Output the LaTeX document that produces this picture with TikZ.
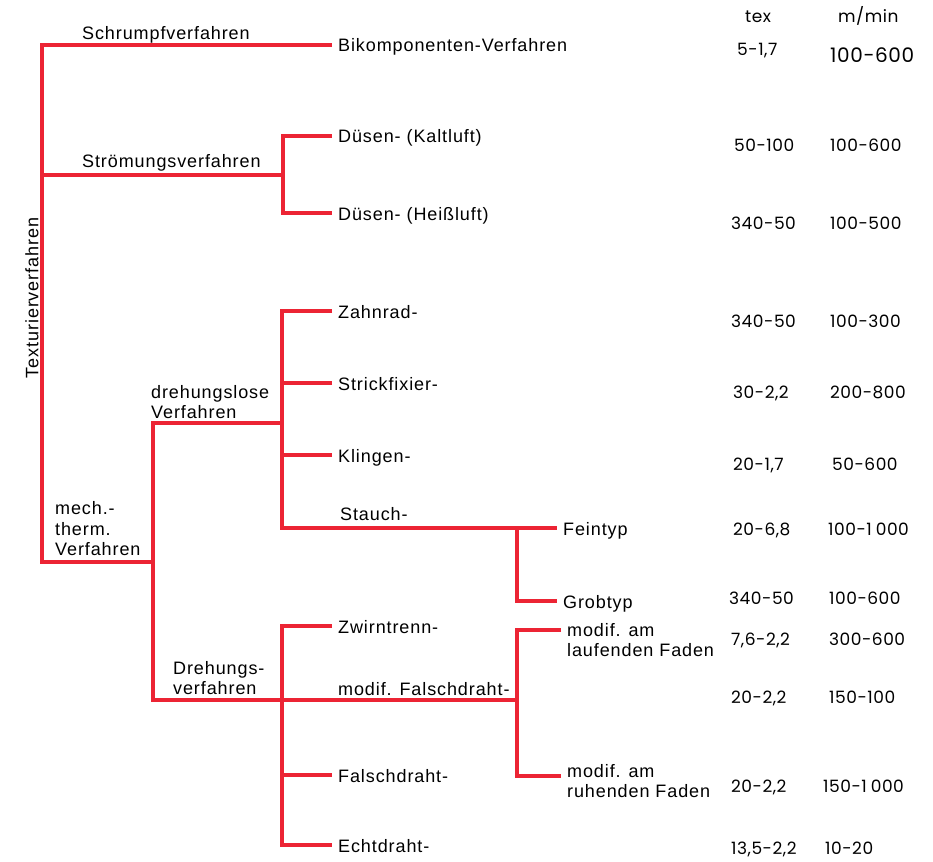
\documentclass[tikz,border=0pt]{standalone}
\usepackage{fontspec}
\setmainfont{Liberation Sans}[LetterSpace=5.0]
\newfontfamily\numfont{Poppins}[LetterSpace=3.0]
\usetikzlibrary{positioning}
\definecolor{linered}{RGB}{236,36,52}

\begin{document}
\begin{tikzpicture}
	% Styles
	[
	x=1pt, y=-1pt,
	txt/.style={font=\fontsize{18}{20.5}\selectfont},
	leaf/.style={txt, anchor=west, inner xsep=6pt, inner ysep=0pt, text height=14pt, text depth=0pt},
	twoleaf/.style={txt, anchor=north west, inner xsep=6pt, inner ysep=0pt, align=left},
	elabel/.style={txt, anchor=south west, inner sep=0pt, text depth=0pt, align=left},
	val/.style={font=\numfont\fontsize{17}{20}\selectfont, anchor=west, inner sep=0pt, text height=12pt, text depth=0pt},
	bigval/.style={font=\numfont\fontsize{20}{24}\selectfont, anchor=west, inner sep=0pt, text height=14pt, text depth=0pt},
	line/.style={draw=linered, line width=3.4pt}
	]
	\useasboundingbox (0,0) rectangle (933,861);

	% Nodes
	\node at (32,298)	(textur)	[txt, rotate=90] {Texturierverfahren};
	\node at (82,40)	(schrumpf)	[elabel] {Schrumpfverfahren};
	\node at (82,168)	(stroemung)	[elabel] {Strömungsverfahren};
	\node at (55,556)	(mechtherm)	[elabel] {mech.-\\therm.\\Verfahren};
	\node at (151,419)	(drehlos)	[elabel] {drehungslose\\Verfahren};
	\node at (173,695)	(drehung)	[elabel] {Drehungs-\\verfahren};
	\node at (340,521)	(stauchl)	[elabel] {Stauch-};
	\node at (338,696)	(modifl)	[elabel] {modif. Falschdraht-};

	\node at (332,45)	(bik)	[leaf] {Bikomponenten-Verfahren};
	\node at (332,136)	(kalt)	[leaf] {Düsen- (Kaltluft)};
	\node at (332,213)	(heiss)	[leaf] {Düsen- (Heißluft)};
	\node at (332,311)	(zahn)	[leaf] {Zahnrad-};
	\node at (332,383)	(strick)	[leaf] {Strickfixier-};
	\node at (332,455)	(kling)	[leaf] {Klingen-};
	\node at (557,528)	(fein)	[leaf] {Feintyp};
	\node at (557,601)	(grob)	[leaf] {Grobtyp};
	\node at (332,626)	(zwirn)	[leaf] {Zwirntrenn-};
	\node at (332,775)	(falsch)	[leaf] {Falschdraht-};
	\node at (332,845)	(echt)	[leaf] {Echtdraht-};
	\node at (561,623)	(lauf)	[twoleaf] {modif. am\\laufenden Faden};
	\node at (561,764)	(ruh)	[twoleaf] {modif. am\\ruhenden Faden};

	% Table
	\node at (745,17)	(tex)	[val] {tex};
	\node at (838,17)	(mmin)	[val] {m/min};
	\node at (737,50)	(tex1)	[val] {5-1,7};
	\node at (830,56)	(mmin1)	[bigval] {100-600};
	\node at (734,146)	(tex2)	[val] {50-100};
	\node at (830,146)	(mmin2)	[val] {100-600};
	\node at (731,223)	(tex3)	[val] {340-50};
	\node at (830,223)	(mmin3)	[val] {100-500};
	\node at (731,321)	(tex4)	[val] {340-50};
	\node at (830,321)	(mmin4)	[val] {100-300};
	\node at (733,392)	(tex5)	[val] {30-2,2};
	\node at (830,392)	(mmin5)	[val] {200-800};
	\node at (733,464)	(tex6)	[val] {20-1,7};
	\node at (832,464)	(mmin6)	[val] {50-600};
	\node at (733,529)	(tex7)	[val] {20-6,8};
	\node at (828,529)	(mmin7)	[val] {100-1\hspace{4pt}000};
	\node at (729,598)	(tex8)	[val] {340-50};
	\node at (829,598)	(mmin8)	[val] {100-600};
	\node at (731,639)	(tex9)	[val] {7,6-2,2};
	\node at (829,639)	(mmin9)	[val] {300-600};
	\node at (731,697)	(tex10)	[val] {20-2,2};
	\node at (829,697)	(mmin10)	[val] {150-100};
	\node at (731,786)	(tex11)	[val] {20-2,2};
	\node at (823,786)	(mmin11)	[val] {150-1\hspace{4pt}000};
	\node at (731,848)	(tex12)	[val] {13,5-2,2};
	\node at (825,848)	(mmin12)	[val] {10-20};

	% Junctions
	\coordinate (trunk) at (42,562);
	\coordinate (stroem) at (42,175);
	\coordinate (duesen) at (283,175);
	\coordinate (mech) at (153,562);
	\coordinate (dlos) at (153,423);
	\coordinate (dlosk) at (282,423);
	\coordinate (stauch) at (282,528);
	\coordinate (typ) at (517,528);
	\coordinate (dreh) at (153,700);
	\coordinate (modif) at (517,700);
	\coordinate (echtk) at (282,845);
	\coordinate (ruhk) at (517,776);

	% Connections
	\draw[line] (bik.west) -| (trunk) -- (mech);
	\draw[line] (stroem) -- (duesen);
	\draw[line] (kalt.west) -| (duesen) |- (heiss.west);
	\draw[line] (dlosk) -- (dlos) -- (dreh) -- (modif);
	\draw[line] (zahn.west) -| (stauch) -- (fein.west);
	\draw[line] (strick.west) -- (strick.west -| stauch);
	\draw[line] (kling.west) -- (kling.west -| stauch);
	\draw[line] (typ) |- (grob.west);
	\draw[line] (zwirn.west) -| (echtk) -- (echt.west);
	\draw[line] (falsch.west) -- (falsch.west -| echtk);
	\draw[line] ([yshift=-7pt]lauf.north west) -| (ruhk) -- ([yshift=-12pt]ruh.north west);

\end{tikzpicture}
\end{document}
